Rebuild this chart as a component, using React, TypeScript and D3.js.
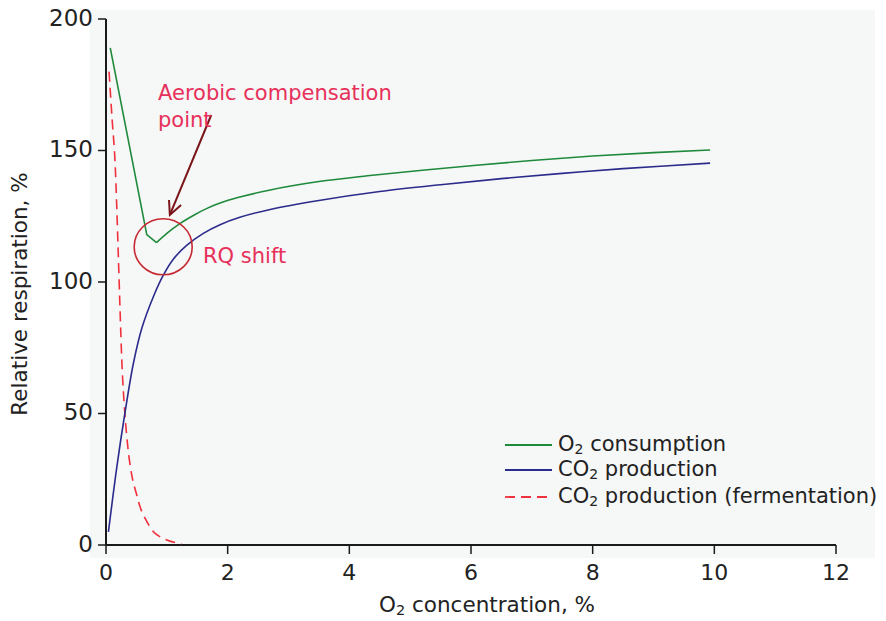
import React from "react";
import * as d3 from "d3";

const o2X = [0.07, 0.67, 0.83, 1.0, 1.22, 1.45, 1.66, 1.875, 2.2, 2.7, 3.5, 4.3, 5.2, 6, 7, 8, 9, 9.93];
const o2Y = [189, 118, 115, 118.5, 122.3, 125.5, 128, 130, 132.3, 135, 138.2, 140.4, 142.5, 144.2, 146.2, 147.9, 149.2, 150.2];

const co2X = [0.04, 0.18, 0.31, 0.45, 0.59, 0.78, 0.94, 1.1, 1.33, 1.6, 1.875, 2.2, 2.7, 3.5, 4.5, 5.5, 6.5, 7.5, 8.5, 9.93];
const co2Y = [5, 30, 50, 69, 82.5, 94.5, 102.5, 108.5, 114, 118.5, 121.8, 124.6, 127.6, 131, 134.4, 137, 139.3, 141.3, 143.1, 145.2];

const fermX = [0.05, 0.1, 0.15, 0.2, 0.23, 0.26, 0.31, 0.36, 0.42, 0.5, 0.56, 0.67, 0.78, 0.9, 1.0, 1.24];
const fermY = [180, 162, 145, 112, 90, 70, 50, 37, 27, 19.5, 14.5, 9, 5, 3, 1.9, 0.4];

const xTicks = [0, 2, 4, 6, 8, 10, 12];
const yTicks = [0, 50, 100, 150, 200];

const FONT = "'DejaVu Sans', Verdana, sans-serif";

export default function App() {
  const W = 886, H = 621;
  const x = d3.scaleLinear().domain([0, 12]).range([106, 836]);
  const y = d3.scaleLinear().domain([0, 200]).range([545, 19]);

  const toPts = (xs: number[], ys: number[]) => xs.map((v, i) => [v, ys[i]] as [number, number]);
  const linLine = d3.line<[number, number]>().x(d => x(d[0])).y(d => y(d[1])).curve(d3.curveLinear);
  const smLine = d3.line<[number, number]>().x(d => x(d[0])).y(d => y(d[1])).curve(d3.curveMonotoneX);
  const crLine = d3.line<[number, number]>().x(d => x(d[0])).y(d => y(d[1])).curve(d3.curveCatmullRom.alpha(0.5));

  const green = "#1f8a3b";
  const blue = "#2b2b8c";
  const red = "#f0303c";
  const annot = "#e6305a";

  const o2Pts = toPts(o2X, o2Y);
  const minIdx = o2Y.indexOf(d3.min(o2Y) as number);
  const o2Down = o2Pts.slice(0, minIdx + 1);
  const o2Up = o2Pts.slice(minIdx);

  // annotation geometry in data space
  const circX = 0.94, circY = 113.4;
  const arrFrom = [1.73, 163.5];
  const arrTo = [1.05, 125.5];
  const ax1 = x(arrFrom[0]), ay1 = y(arrFrom[1]);
  const ax2 = x(arrTo[0]), ay2 = y(arrTo[1]);
  const ang = Math.atan2(ay1 - ay2, ax1 - ax2);
  const hl = 15, ha = 0.45;
  const h1 = [ax2 + hl * Math.cos(ang + ha), ay2 + hl * Math.sin(ang + ha)];
  const h2 = [ax2 + hl * Math.cos(ang - ha), ay2 + hl * Math.sin(ang - ha)];

  const legend = [
    { pre: "O", post: " consumption", color: green, dash: undefined as string | undefined, y: 445 },
    { pre: "CO", post: " production", color: blue, dash: undefined, y: 470 },
    { pre: "CO", post: " production (fermentation)", color: red, dash: "10,6", y: 497 },
  ];

  return (
    <svg width={W} height={H} style={{ position: "absolute", left: 0, top: 0, display: "block" }} fontFamily={FONT}>
      <rect x={0} y={0} width={W} height={H} fill="#ffffff" />
      <rect x={90} y={10} width={785} height={548} fill="#f6f7f7" />

      {/* axes */}
      <line x1={x(0)} x2={x(12)} y1={y(0)} y2={y(0)} stroke="#1a1a1a" strokeWidth={2} />
      <line x1={x(0)} x2={x(0)} y1={y(0)} y2={y(200)} stroke="#1a1a1a" strokeWidth={2} />
      {xTicks.map(t => (
        <g key={"x" + t}>
          <line x1={x(t)} x2={x(t)} y1={y(0)} y2={y(0) + 9} stroke="#1a1a1a" strokeWidth={1.5} />
          <text x={x(t)} y={574} textAnchor="middle" dominantBaseline="middle" fontSize={22} fill="#222">{t}</text>
        </g>
      ))}
      {yTicks.map(t => (
        <g key={"y" + t}>
          <line x1={x(0) - 8} x2={x(0)} y1={y(t)} y2={y(t)} stroke="#1a1a1a" strokeWidth={1.5} />
          <text x={93} y={y(t)} textAnchor="end" dominantBaseline="middle" fontSize={23} fill="#222">{t}</text>
        </g>
      ))}
      <text x={487} y={606} textAnchor="middle" dominantBaseline="middle" fontSize={21.5} fill="#222">
        O<tspan fontSize={14.5} dy={5}>2</tspan><tspan dy={-5}> concentration, %</tspan>
      </text>
      <text transform={`translate(21,294) rotate(-90)`} textAnchor="middle" dominantBaseline="middle" fontSize={21.5} fill="#222">
        Relative respiration, %
      </text>

      {/* series */}
      <path d={smLine(toPts(fermX, fermY)) || ""} fill="none" stroke={red} strokeWidth={1.6} strokeDasharray="10,6" />
      <path d={crLine(toPts(co2X, co2Y)) || ""} fill="none" stroke={blue} strokeWidth={1.6} />
      <path d={linLine(o2Down) || ""} fill="none" stroke={green} strokeWidth={1.6} strokeLinejoin="miter" />
      <path d={smLine(o2Up) || ""} fill="none" stroke={green} strokeWidth={1.6} />

      {/* annotations */}
      <ellipse cx={x(circX)} cy={y(circY)} rx={29} ry={28} fill="none" stroke="#c62a33" strokeWidth={1.6} />
      <line x1={ax1} y1={ay1} x2={ax2} y2={ay2} stroke="#7a1518" strokeWidth={2} />
      <polyline points={`${h1[0]},${h1[1]} ${ax2},${ay2} ${h2[0]},${h2[1]}`} fill="none" stroke="#7a1518" strokeWidth={2} />
      <text x={158} y={100} fontSize={21} fill={annot}>Aerobic compensation</text>
      <text x={158} y={127} fontSize={21} fill={annot}>point</text>
      <text x={203} y={263} fontSize={21} fill={annot}>RQ shift</text>

      {/* legend */}
      {legend.map((l, i) => (
        <g key={i}>
          <line x1={505} x2={552} y1={l.y} y2={l.y} stroke={l.color} strokeWidth={1.8} strokeDasharray={l.dash} />
          <text x={558} y={l.y} dominantBaseline="middle" fontSize={21} fill="#222">
            {l.pre}<tspan fontSize={14} dy={5}>2</tspan><tspan dy={-5}>{l.post}</tspan>
          </text>
        </g>
      ))}
    </svg>
  );
}
